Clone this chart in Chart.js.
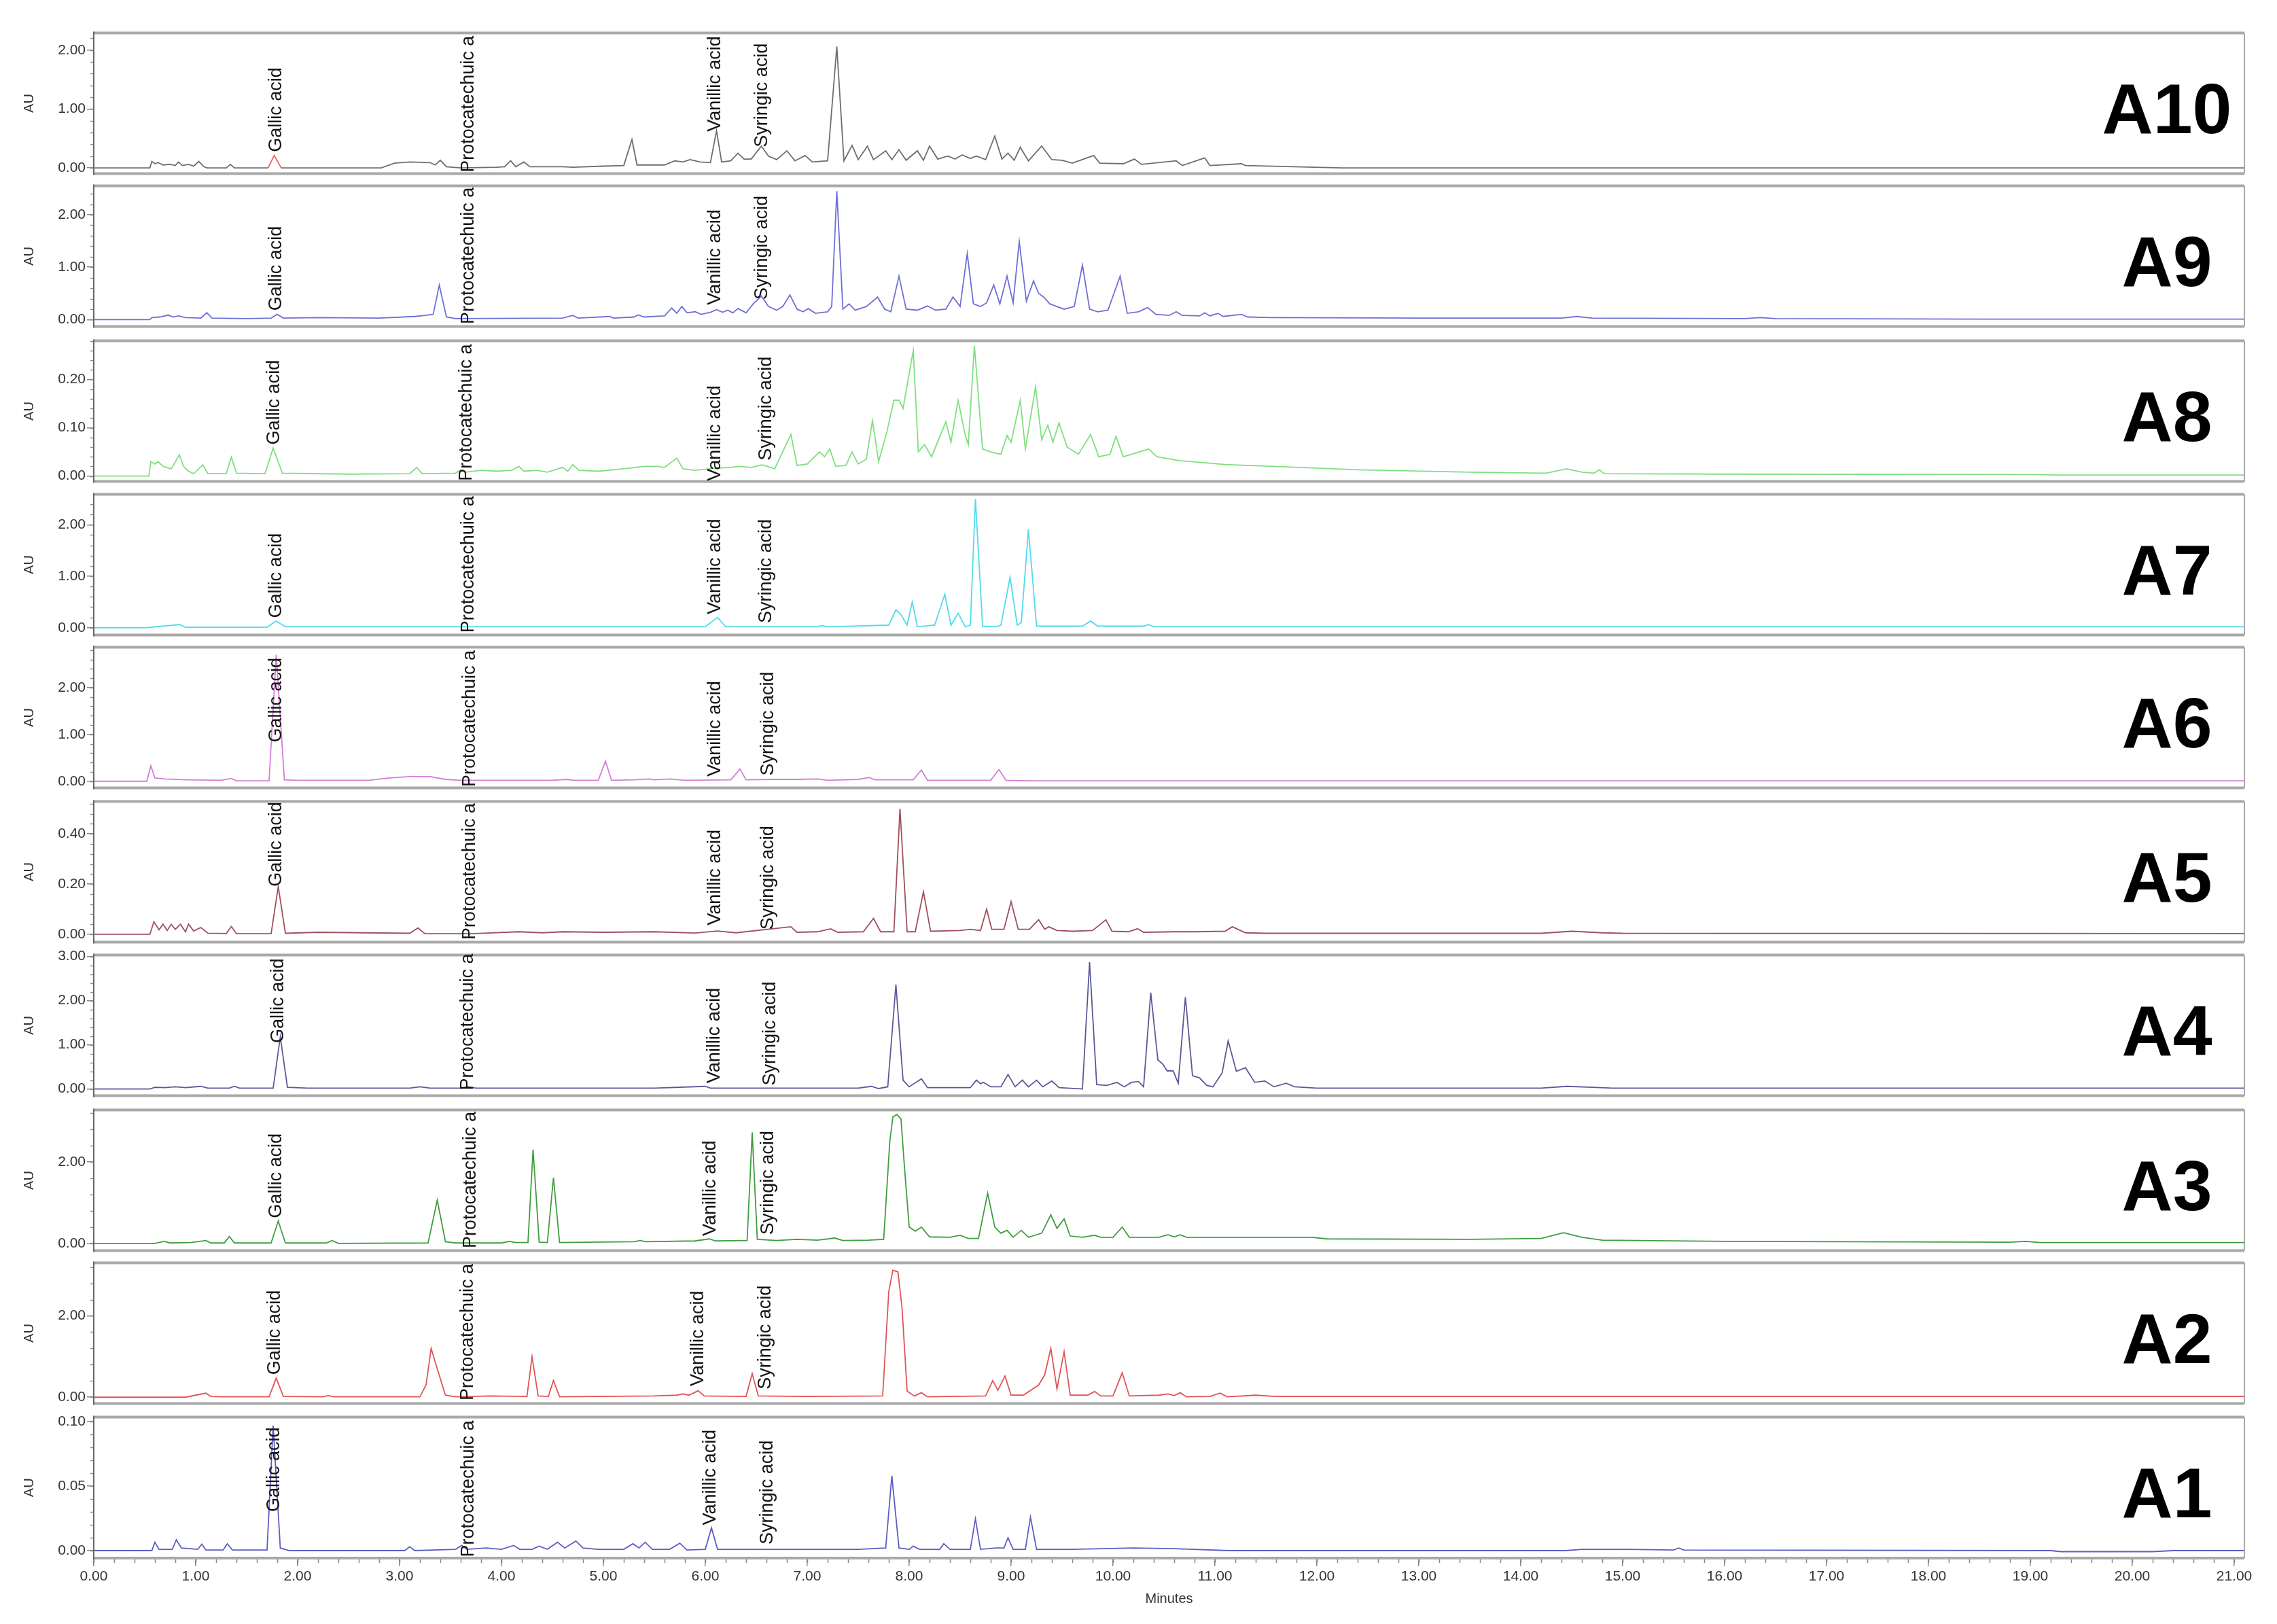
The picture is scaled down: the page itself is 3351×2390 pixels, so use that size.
<!DOCTYPE html>
<html>
<head>
<meta charset="utf-8">
<script src="https://cdn.jsdelivr.net/npm/chart.js@4.4.1/dist/chart.umd.min.js"></script>
<style>
  html, body { margin: 0; padding: 0; background: #fff; }
  #wrap { position: relative; width: 3351px; height: 2390px; overflow: hidden; }
  #wrap canvas { position: absolute; left: 0; }
</style>
</head>
<body>
<div id="wrap"></div>
<script>
// chromatogram traces, [minutes, AU]
const traceA10 = [[0,0],[0.55,0],[0.57,0.11],[0.6,0.07],[0.63,0.09],[0.68,0.05],[0.75,0.06],[0.8,0.04],[0.83,0.1],[0.87,0.04],[0.93,0.06],[0.98,0.03],[1.03,0.11],[1.08,0.02],[1.11,0],[1.3,0],[1.34,0.06],[1.38,0],[1.71,0],[1.77,0.21],[1.84,0],[2.82,0],[2.95,0.08],[3.1,0.1],[3.3,0.09],[3.35,0.05],[3.4,0.13],[3.46,0.02],[3.6,0],[3.95,0.01],[4.03,0.02],[4.09,0.12],[4.14,0.02],[4.22,0.1],[4.28,0.02],[4.6,0.02],[4.7,0.01],[5.0,0.03],[5.2,0.04],[5.28,0.48],[5.33,0.05],[5.6,0.05],[5.7,0.12],[5.78,0.1],[5.85,0.14],[5.95,0.1],[6.05,0.09],[6.11,0.63],[6.16,0.1],[6.25,0.12],[6.32,0.25],[6.38,0.15],[6.45,0.15],[6.55,0.37],[6.62,0.2],[6.7,0.14],[6.8,0.29],[6.88,0.12],[6.98,0.21],[7.05,0.1],[7.2,0.12],[7.29,2.06],[7.36,0.12],[7.44,0.38],[7.5,0.14],[7.59,0.37],[7.65,0.14],[7.77,0.29],[7.83,0.14],[7.9,0.31],[7.97,0.13],[8.08,0.29],[8.14,0.13],[8.2,0.37],[8.28,0.15],[8.38,0.2],[8.45,0.15],[8.52,0.22],[8.6,0.16],[8.66,0.2],[8.75,0.14],[8.84,0.54],[8.91,0.15],[8.97,0.25],[9.03,0.13],[9.09,0.35],[9.17,0.12],[9.3,0.37],[9.4,0.14],[9.5,0.13],[9.6,0.08],[9.81,0.21],[9.87,0.08],[10.1,0.07],[10.21,0.15],[10.28,0.06],[10.62,0.12],[10.68,0.04],[10.9,0.17],[10.95,0.04],[11.26,0.07],[11.3,0.04],[12.25,0],[21.1,0]];

const traceA9 = [[0,0],[0.55,0],[0.57,0.04],[0.65,0.05],[0.73,0.085],[0.78,0.05],[0.83,0.07],[0.9,0.04],[1.05,0.03],[1.11,0.13],[1.16,0.03],[1.5,0.02],[1.74,0.03],[1.8,0.1],[1.86,0.03],[2.2,0.04],[2.8,0.03],[3.15,0.06],[3.25,0.08],[3.33,0.1],[3.39,0.66],[3.46,0.05],[3.55,0.02],[4.6,0.03],[4.7,0.08],[4.75,0.03],[5.06,0.06],[5.1,0.03],[5.3,0.05],[5.34,0.09],[5.4,0.05],[5.6,0.07],[5.67,0.22],[5.72,0.12],[5.77,0.25],[5.82,0.13],[5.9,0.15],[5.96,0.1],[6.05,0.14],[6.11,0.19],[6.17,0.14],[6.22,0.18],[6.27,0.13],[6.32,0.21],[6.4,0.13],[6.47,0.3],[6.55,0.45],[6.62,0.25],[6.7,0.18],[6.76,0.25],[6.83,0.47],[6.9,0.2],[6.96,0.15],[7.01,0.21],[7.08,0.12],[7.2,0.15],[7.24,0.25],[7.29,2.45],[7.35,0.2],[7.41,0.3],[7.47,0.18],[7.58,0.25],[7.69,0.43],[7.76,0.2],[7.82,0.15],[7.9,0.83],[7.97,0.2],[8.08,0.18],[8.18,0.26],[8.26,0.18],[8.36,0.2],[8.43,0.43],[8.5,0.25],[8.57,1.26],[8.63,0.3],[8.7,0.25],[8.76,0.32],[8.83,0.66],[8.89,0.3],[8.96,0.83],[9.02,0.32],[9.08,1.49],[9.15,0.35],[9.22,0.74],[9.27,0.5],[9.32,0.43],[9.38,0.3],[9.45,0.25],[9.52,0.2],[9.62,0.25],[9.7,1.04],[9.77,0.2],[9.85,0.15],[9.95,0.18],[10.07,0.83],[10.14,0.12],[10.25,0.15],[10.34,0.23],[10.42,0.1],[10.55,0.08],[10.62,0.15],[10.68,0.08],[10.85,0.07],[10.9,0.13],[10.95,0.07],[11.03,0.12],[11.08,0.06],[11.26,0.1],[11.32,0.05],[11.54,0.04],[13,0.03],[14.4,0.03],[14.55,0.06],[14.7,0.03],[16.2,0.02],[16.35,0.04],[16.5,0.02],[18.5,0.01],[21.1,0.01]];

const traceA8 = [[0,0],[0.54,0],[0.56,0.03],[0.6,0.025],[0.63,0.03],[0.68,0.02],[0.76,0.015],[0.84,0.044],[0.88,0.02],[0.93,0.01],[0.98,0.005],[1.07,0.023],[1.12,0.005],[1.3,0.005],[1.35,0.039],[1.4,0.006],[1.68,0.005],[1.76,0.058],[1.85,0.006],[2.5,0.004],[3.1,0.005],[3.17,0.018],[3.22,0.005],[3.55,0.006],[3.6,0.013],[3.65,0.008],[3.8,0.012],[3.95,0.01],[4.1,0.012],[4.17,0.02],[4.22,0.01],[4.35,0.012],[4.45,0.008],[4.6,0.018],[4.65,0.01],[4.7,0.024],[4.76,0.012],[4.95,0.01],[5.2,0.015],[5.4,0.02],[5.53,0.02],[5.6,0.018],[5.72,0.037],[5.78,0.015],[5.9,0.012],[6.1,0.016],[6.25,0.018],[6.33,0.02],[6.45,0.018],[6.56,0.023],[6.68,0.015],[6.84,0.086],[6.9,0.022],[7.0,0.025],[7.12,0.05],[7.17,0.04],[7.22,0.056],[7.28,0.02],[7.38,0.022],[7.44,0.05],[7.5,0.025],[7.58,0.035],[7.64,0.115],[7.7,0.03],[7.78,0.09],[7.85,0.157],[7.9,0.157],[7.94,0.14],[8.04,0.26],[8.09,0.05],[8.15,0.065],[8.22,0.04],[8.36,0.112],[8.41,0.07],[8.48,0.157],[8.55,0.085],[8.58,0.065],[8.64,0.27],[8.72,0.056],[8.8,0.05],[8.9,0.045],[8.96,0.084],[9.0,0.07],[9.09,0.157],[9.14,0.056],[9.24,0.185],[9.3,0.075],[9.36,0.105],[9.41,0.07],[9.47,0.11],[9.55,0.06],[9.66,0.045],[9.78,0.086],[9.86,0.04],[9.97,0.045],[10.03,0.082],[10.1,0.04],[10.2,0.046],[10.35,0.056],[10.43,0.04],[10.65,0.032],[11.1,0.024],[11.83,0.018],[12.4,0.013],[13.5,0.008],[14.25,0.006],[14.45,0.015],[14.6,0.008],[14.72,0.006],[14.77,0.013],[14.82,0.005],[16,0.004],[19,0.003],[19.3,0.002],[21.1,0.002]];

const traceA7 = [[0,0],[0.5,0],[0.84,0.06],[0.9,0.01],[1.7,0.01],[1.79,0.13],[1.88,0.02],[4,0.02],[6.0,0.02],[6.12,0.2],[6.2,0.02],[7.1,0.02],[7.14,0.04],[7.2,0.02],[7.8,0.05],[7.87,0.35],[7.92,0.25],[7.98,0.05],[8.03,0.5],[8.08,0.02],[8.25,0.05],[8.35,0.65],[8.41,0.05],[8.48,0.28],[8.55,0.02],[8.6,0.05],[8.65,2.5],[8.72,0.03],[8.85,0.02],[8.9,0.05],[8.99,0.98],[9.06,0.05],[9.1,0.1],[9.17,1.91],[9.25,0.03],[9.7,0.03],[9.78,0.13],[9.85,0.03],[10.3,0.03],[10.35,0.06],[10.4,0.02],[21.1,0.02]];

const traceA6 = [[0,0],[0.52,0],[0.56,0.33],[0.6,0.07],[0.7,0.05],[0.9,0.03],[1.25,0.02],[1.35,0.06],[1.4,0.01],[1.72,0.01],[1.79,2.7],[1.87,0.03],[2.0,0.02],[2.7,0.02],[2.9,0.07],[3.1,0.1],[3.3,0.1],[3.45,0.04],[3.6,0.02],[4.5,0.02],[4.64,0.04],[4.7,0.02],[4.95,0.02],[5.02,0.43],[5.08,0.02],[5.3,0.03],[5.45,0.05],[5.5,0.03],[5.65,0.05],[5.8,0.02],[6.25,0.03],[6.34,0.26],[6.4,0.03],[6.7,0.04],[6.9,0.04],[7.1,0.05],[7.2,0.02],[7.5,0.04],[7.61,0.08],[7.66,0.03],[8.04,0.03],[8.12,0.24],[8.18,0.02],[8.8,0.02],[8.88,0.25],[8.95,0.02],[9.2,0.01],[21.1,0.01]];

const traceA5 = [[0,0],[0.55,0],[0.59,0.05],[0.64,0.018],[0.68,0.04],[0.72,0.015],[0.76,0.04],[0.8,0.02],[0.85,0.04],[0.9,0.01],[0.93,0.04],[0.98,0.013],[1.05,0.027],[1.12,0.004],[1.3,0.003],[1.35,0.031],[1.4,0.002],[1.74,0.002],[1.81,0.19],[1.88,0.004],[2.2,0.008],[3.1,0.004],[3.18,0.025],[3.25,0.002],[3.7,0.002],[4.17,0.01],[4.4,0.006],[4.6,0.01],[5.0,0.008],[5.5,0.01],[5.9,0.005],[6.12,0.013],[6.3,0.006],[6.84,0.03],[6.9,0.008],[7.1,0.01],[7.23,0.022],[7.3,0.008],[7.55,0.01],[7.65,0.063],[7.72,0.01],[7.85,0.01],[7.91,0.5],[7.98,0.01],[8.06,0.01],[8.14,0.17],[8.21,0.012],[8.5,0.015],[8.6,0.02],[8.7,0.015],[8.76,0.1],[8.81,0.02],[8.93,0.02],[9.0,0.13],[9.07,0.02],[9.18,0.02],[9.27,0.058],[9.33,0.02],[9.37,0.03],[9.45,0.015],[9.6,0.012],[9.8,0.015],[9.93,0.058],[9.99,0.012],[10.15,0.01],[10.24,0.022],[10.3,0.008],[10.6,0.01],[10.8,0.01],[11.1,0.012],[11.17,0.03],[11.3,0.006],[11.5,0.004],[14.2,0.004],[14.5,0.012],[14.8,0.006],[15,0.004],[21.1,0.003]];

const traceA4 = [[0,0],[0.55,0],[0.6,0.04],[0.7,0.03],[0.8,0.05],[0.9,0.03],[1.05,0.06],[1.12,0.02],[1.33,0.02],[1.38,0.06],[1.43,0.02],[1.76,0.02],[1.83,1.18],[1.9,0.04],[2.1,0.02],[3.1,0.02],[3.2,0.05],[3.3,0.02],[3.6,0.02],[3.67,0.05],[3.75,0.02],[5.5,0.02],[6.0,0.06],[6.05,0.02],[7.5,0.02],[7.63,0.06],[7.7,0.01],[7.79,0.05],[7.87,2.36],[7.94,0.2],[8.0,0.05],[8.12,0.23],[8.18,0.03],[8.6,0.03],[8.66,0.2],[8.7,0.12],[8.73,0.15],[8.8,0.05],[8.9,0.05],[8.97,0.33],[9.04,0.05],[9.11,0.2],[9.17,0.05],[9.25,0.2],[9.31,0.05],[9.4,0.18],[9.47,0.03],[9.7,0.0],[9.77,2.87],[9.84,0.1],[9.94,0.08],[10.04,0.15],[10.11,0.05],[10.18,0.15],[10.25,0.17],[10.3,0.05],[10.37,2.18],[10.44,0.66],[10.49,0.56],[10.53,0.41],[10.59,0.41],[10.64,0.13],[10.71,2.08],[10.78,0.3],[10.85,0.25],[10.92,0.08],[10.98,0.05],[11.07,0.36],[11.13,1.09],[11.21,0.4],[11.3,0.48],[11.39,0.15],[11.49,0.18],[11.58,0.05],[11.7,0.13],[11.78,0.05],[12,0.02],[14.2,0.02],[14.45,0.06],[14.7,0.04],[14.9,0.02],[21.1,0.02]];

const traceA3 = [[0,0],[0.6,0],[0.69,0.05],[0.75,0.01],[0.95,0.02],[1.1,0.07],[1.15,0.01],[1.28,0.01],[1.33,0.17],[1.38,0.01],[1.74,0.01],[1.81,0.55],[1.88,0.01],[2.28,0.01],[2.34,0.07],[2.4,0.0],[3.28,0.01],[3.37,1.06],[3.45,0.04],[3.55,0.01],[4.0,0.01],[4.08,0.05],[4.14,0.02],[4.26,0.02],[4.31,2.3],[4.37,0.03],[4.45,0.02],[4.51,1.61],[4.57,0.02],[5.3,0.04],[5.36,0.07],[5.42,0.04],[5.9,0.06],[6.04,0.11],[6.1,0.06],[6.41,0.07],[6.46,2.72],[6.51,0.1],[6.7,0.07],[6.9,0.1],[7.1,0.08],[7.27,0.13],[7.35,0.07],[7.6,0.08],[7.75,0.1],[7.81,2.5],[7.84,3.1],[7.88,3.16],[7.92,3.05],[7.95,2.0],[8.0,0.4],[8.06,0.3],[8.12,0.4],[8.2,0.16],[8.4,0.15],[8.5,0.2],[8.58,0.12],[8.68,0.12],[8.77,1.23],[8.84,0.4],[8.9,0.25],[8.96,0.32],[9.02,0.15],[9.1,0.32],[9.17,0.15],[9.3,0.25],[9.39,0.7],[9.45,0.37],[9.52,0.6],[9.58,0.18],[9.7,0.15],[9.82,0.2],[9.88,0.15],[10.0,0.15],[10.09,0.4],[10.16,0.15],[10.45,0.15],[10.54,0.21],[10.6,0.16],[10.66,0.21],[10.72,0.15],[11.95,0.15],[12.1,0.11],[13.5,0.1],[14.2,0.12],[14.42,0.26],[14.6,0.15],[14.8,0.08],[16,0.05],[18.8,0.03],[18.95,0.05],[19.1,0.02],[21.1,0.02]];

const traceA2 = [[0,0],[0.9,0],[1.1,0.1],[1.15,0.02],[1.25,0.01],[1.72,0.01],[1.79,0.47],[1.86,0.02],[2.25,0.01],[2.3,0.04],[2.36,0.01],[3.2,0.01],[3.26,0.3],[3.31,1.2],[3.37,0.7],[3.45,0.05],[3.55,0.01],[3.9,0.03],[4.25,0.02],[4.3,0.99],[4.36,0.03],[4.46,0.02],[4.51,0.41],[4.57,0.01],[5.5,0.03],[5.72,0.05],[5.78,0.08],[5.84,0.05],[5.93,0.16],[5.99,0.03],[6.4,0.02],[6.46,0.58],[6.52,0.03],[7.0,0.02],[7.74,0.03],[7.8,2.6],[7.84,3.12],[7.89,3.08],[7.93,2.2],[7.98,0.15],[8.05,0.03],[8.12,0.11],[8.18,0.01],[8.75,0.03],[8.82,0.41],[8.87,0.17],[8.94,0.52],[9.0,0.05],[9.12,0.05],[9.27,0.3],[9.33,0.55],[9.39,1.2],[9.45,0.2],[9.52,1.12],[9.58,0.05],[9.75,0.05],[9.82,0.14],[9.88,0.03],[10.0,0.03],[10.09,0.6],[10.16,0.03],[10.45,0.05],[10.54,0.08],[10.6,0.04],[10.66,0.11],[10.72,0.01],[10.95,0.02],[11.05,0.1],[11.12,0.01],[11.4,0.05],[11.6,0.02],[21.1,0.02]];

const traceA1 = [[0,0],[0.57,0],[0.6,0.0065],[0.64,0.001],[0.77,0.001],[0.81,0.0083],[0.86,0.002],[1.02,0.001],[1.06,0.005],[1.1,0.0005],[1.27,0.0005],[1.31,0.0053],[1.36,0.0005],[1.7,0.0005],[1.76,0.097],[1.83,0.002],[1.92,0],[3.05,0],[3.1,0.003],[3.15,0],[3.55,0.001],[3.61,0.004],[3.66,0.001],[3.85,0.002],[4.0,0.001],[4.12,0.004],[4.18,0.001],[4.3,0.001],[4.37,0.0035],[4.45,0.001],[4.55,0.0065],[4.62,0.002],[4.73,0.0074],[4.8,0.002],[4.95,0.001],[5.2,0.001],[5.29,0.0053],[5.35,0.002],[5.41,0.0065],[5.48,0.001],[5.65,0.001],[5.75,0.0057],[5.82,0.0005],[6.0,0.001],[6.06,0.0177],[6.12,0.001],[7.5,0.001],[7.77,0.002],[7.83,0.058],[7.9,0.002],[8.0,0.001],[8.04,0.0035],[8.1,0.001],[8.3,0.001],[8.34,0.0053],[8.4,0.001],[8.6,0.001],[8.65,0.0247],[8.7,0.001],[8.85,0.002],[8.93,0.002],[8.97,0.01],[9.02,0.001],[9.14,0.001],[9.19,0.026],[9.25,0.001],[9.6,0.001],[10.2,0.002],[10.6,0.0015],[11.14,0],[14.44,0],[14.6,0.001],[15.05,0.001],[15.5,0.0005],[15.55,0.002],[15.6,0.0005],[19.2,0],[19.3,-0.0008],[20.2,-0.0008],[20.4,0],[21.1,0]];

// panels from top to bottom
const panelNames = ['A10', 'A9', 'A8', 'A7', 'A6', 'A5', 'A4', 'A3', 'A2', 'A1'];
const traces = [traceA10, traceA9, traceA8, traceA7, traceA6, traceA5, traceA4, traceA3, traceA2, traceA1];
const yMin = [-0.096, -0.13, -0.011, -0.14, -0.14, -0.031, -0.15, -0.176, -0.153, -0.0058];
const yMax = [2.29, 2.55, 0.28, 2.59, 2.86, 0.529, 3.03, 3.27, 3.30, 0.1035];
const yTicks = [[0, 1, 2], [0, 1, 2], [0, 0.1, 0.2], [0, 1, 2], [0, 1, 2], [0, 0.2, 0.4], [0, 1, 2, 3], [0, 2], [0, 2], [0, 0.05, 0.1]];
const yMinorStep = [0.2, 0.2, 0.02, 0.2, 0.2, 0.04, 0.2, 0.4, 0.4, 0.01];
const xTicks = [0, 1, 2, 3, 4, 5, 6, 7, 8, 9, 10, 11, 12, 13, 14, 15, 16, 17, 18, 19, 20, 21];

// peak labels: [minutes, AU where the text starts]
const compounds = ['Gallic acid', 'Protocatechuic a', 'Vanillic acid', 'Syringic acid'];
const peakLabels = [
  [[1.79, 0.27], [3.68, -0.077], [6.10, 0.615], [6.56, 0.35]],
  [[1.79, 0.17], [3.68, -0.085], [6.10, 0.28], [6.56, 0.38]],
  [[1.77, 0.065], [3.66, -0.01], [6.10, -0.01], [6.60, 0.032]],
  [[1.79, 0.19], [3.68, -0.1], [6.10, 0.26], [6.60, 0.09]],
  [[1.79, 0.83], [3.69, -0.12], [6.10, 0.1], [6.62, 0.12]],
  [[1.79, 0.19], [3.69, -0.022], [6.10, 0.036], [6.62, 0.018]],
  [[1.81, 1.04], [3.67, -0.03], [6.09, 0.13], [6.64, 0.08]],
  [[1.79, 0.62], [3.70, -0.12], [6.05, 0.18], [6.62, 0.21]],
  [[1.78, 0.55], [3.67, -0.08], [5.93, 0.27], [6.59, 0.19]],
  [[1.77, 0.030], [3.68, -0.005], [6.05, 0.0198], [6.61, 0.0048]]
];

const lineColors = ['#6e6e6e', '#6f6fd8', '#7fe07f', '#4fdcec', '#d47ed8', '#a0505e', '#5a5a98', '#3f9e3f', '#e25454', '#5e5ec4'];

const PANEL_TOP = [48, 273, 501, 727, 952, 1179, 1405, 1633, 1858, 2085];
const PANEL_H = 208;
const PAD = 14;
const AXIS_H = 72;

Chart.defaults.font.family = '"Liberation Sans", Arial, sans-serif';
Chart.defaults.color = '#333';

const decor = {
  id: 'decor',
  afterDraw(chart, args, opts) {
    const { ctx, chartArea: a, scales: { x, y } } = chart;
    ctx.save();
    // minor ticks on the AU axis
    ctx.strokeStyle = '#888';
    ctx.lineWidth = 1.5;
    const step = opts.minor;
    for (let k = Math.ceil(y.min / step); k * step <= y.max; k++) {
      const py = Math.round(y.getPixelForValue(k * step)) + 0.5;
      ctx.beginPath();
      ctx.moveTo(a.left - 5, py);
      ctx.lineTo(a.left, py);
      ctx.stroke();
    }
    if (opts.bottomAxis) {
      for (let k = 0; k * 0.2 <= x.max; k++) {
        const px = Math.round(x.getPixelForValue(k * 0.2)) + 0.5;
        ctx.beginPath();
        ctx.moveTo(px, a.bottom);
        ctx.lineTo(px, a.bottom + 7);
        ctx.stroke();
      }
    }
    // panel frame
    ctx.strokeStyle = '#a9a9a9';
    ctx.lineWidth = 4;
    ctx.beginPath();
    ctx.moveTo(a.left, a.top); ctx.lineTo(a.right, a.top);
    ctx.moveTo(a.left, a.bottom); ctx.lineTo(a.right, a.bottom);
    ctx.stroke();
    ctx.lineWidth = 2;
    ctx.beginPath();
    ctx.moveTo(a.right, a.top); ctx.lineTo(a.right, a.bottom);
    ctx.stroke();
    ctx.strokeStyle = '#666';
    ctx.beginPath();
    ctx.moveTo(a.left, a.top - 2); ctx.lineTo(a.left, a.bottom + 2);
    ctx.stroke();

    // compound names, rotated, starting at the peak
    ctx.fillStyle = '#151515';
    ctx.font = '27px "Liberation Sans", Arial, sans-serif';
    ctx.textAlign = 'left';
    ctx.textBaseline = 'middle';
    opts.labels.forEach((p, j) => {
      ctx.save();
      ctx.translate(x.getPixelForValue(p[0]), y.getPixelForValue(p[1]));
      ctx.rotate(-Math.PI / 2);
      ctx.fillText(compounds[j], 0, 0);
      ctx.restore();
    });

    // sample name
    ctx.fillStyle = '#000';
    ctx.font = 'bold 104px "Liberation Sans", Arial, sans-serif';
    ctx.textAlign = 'center';
    ctx.textBaseline = 'alphabetic';
    ctx.fillText(opts.name, a.right - 114, (a.top + a.bottom) / 2 + 44);
    ctx.restore();
  }
};

const wrap = document.getElementById('wrap');

panelNames.forEach((name, i) => {
  const last = i === panelNames.length - 1;
  const h = PANEL_H + PAD + (last ? AXIS_H : PAD);
  const canvas = document.createElement('canvas');
  canvas.width = 3351;
  canvas.height = h;
  canvas.style.width = '3351px';
  canvas.style.height = h + 'px';
  canvas.style.top = (PANEL_TOP[i] - PAD) + 'px';
  wrap.appendChild(canvas);

  const color = lineColors[i];
  new Chart(canvas.getContext('2d'), {
    type: 'line',
    data: {
      datasets: [{
        data: traces[i],
        borderColor: color,
        borderWidth: 1.8,
        pointRadius: 0,
        tension: 0,
        fill: false,
        segment: i === 0 ? {
          borderColor: c => (c.p0.parsed.x >= 1.7 && c.p1.parsed.x <= 1.85) ? '#e06666' : undefined
        } : undefined
      }]
    },
    options: {
      responsive: false,
      animation: false,
      devicePixelRatio: 1,
      layout: { padding: { top: PAD, bottom: last ? 0 : PAD, left: 0, right: 48 } },
      plugins: {
        legend: { display: false },
        tooltip: { enabled: false },
        decor: { name: name, labels: peakLabels[i], minor: yMinorStep[i], bottomAxis: last }
      },
      scales: {
        x: {
          type: 'linear',
          min: 0,
          max: 21.1,
          display: last,
          afterBuildTicks: s => { s.ticks = xTicks.map(v => ({ value: v })); },
          afterFit: s => { s.height = last ? AXIS_H : 0; },
          ticks: {
            callback: v => v.toFixed(2),
            font: { size: 21 },
            color: '#333',
            padding: 3,
            maxRotation: 0,
            autoSkip: false
          },
          grid: { drawOnChartArea: false, tickLength: 12, color: '#888', lineWidth: 1.5 },
          border: { display: false },
          title: { display: true, text: 'Minutes', font: { size: 20 }, color: '#333', padding: { top: 2, bottom: 0 } }
        },
        y: {
          type: 'linear',
          min: yMin[i],
          max: yMax[i],
          afterBuildTicks: s => { s.ticks = yTicks[i].map(v => ({ value: v })); },
          afterFit: s => { s.width = 138; },
          ticks: {
            callback: v => v.toFixed(2),
            font: { size: 21 },
            color: '#333',
            padding: 2
          },
          grid: { drawOnChartArea: false, tickLength: 10, color: '#888', lineWidth: 1.5 },
          border: { display: false },
          title: { display: true, text: 'AU', font: { size: 20 }, color: '#333', padding: { top: 31, bottom: 0 } }
        }
      }
    },
    plugins: [decor]
  });
});
</script>
</body>
</html>
